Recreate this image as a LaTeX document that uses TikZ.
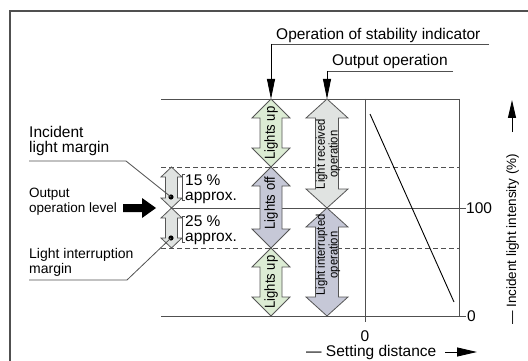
\documentclass[tikz,border=0pt]{standalone}
\usepackage{fontspec}
\setmainfont{Liberation Sans}
\newfontfamily\narrowfont[FakeStretch=0.9]{Liberation Sans}
\usetikzlibrary{arrows.meta}
\definecolor{gridc}{RGB}{80,80,80}
\definecolor{outc}{RGB}{85,85,85}
\definecolor{greenf}{RGB}{220,236,212}
\definecolor{offf}{RGB}{198,200,215}
\definecolor{recf}{RGB}{224,227,225}
\newcommand\fsA{\fontsize{15.5}{15}\selectfont}
\newcommand\fsB{\fontsize{14}{15}\selectfont}
\newcommand\fsC{\fontsize{13.5}{15}\selectfont}
\newcommand\fsR{\fontsize{13.5}{14}\selectfont}
\newcommand\fsArrow{\narrowfont\fontsize{14.5}{14}\selectfont}
\newcommand\fsArrowS{\narrowfont\fontsize{12.5}{10.5}\selectfont}
\newcommand\myDblArrow[7]{\filldraw[arrowbox,fill=#7] (#1,#2) -- ({#1+#4},{#2+#6}) -- ({#1+#5},{#2+#6}) -- ({#1+#5},{#3-#6}) -- ({#1+#4},{#3-#6}) -- (#1,#3) -- ({#1-#4},{#3-#6}) -- ({#1-#5},{#3-#6}) -- ({#1-#5},{#2+#6}) -- ({#1-#4},{#2+#6}) -- cycle;}
\begin{document}
\begin{tikzpicture}[x=1pt,y=-1pt,
  frame/.style={draw=gridc,line width=1.2pt},
  gridline/.style={draw=gridc,line width=0.9pt},
  dashline/.style={draw=gridc,line width=0.8pt,dash pattern=on 5pt off 3pt},
  leader/.style={draw=gridc,line width=0.8pt},
  tipline/.style={draw=black,line width=0.8pt,-{Triangle[length=20pt,width=8pt]}},
  arrowbox/.style={draw=outc,line width=0.8pt},
  lbl/.style={inner sep=0pt}]
\useasboundingbox (0,0) rectangle (528,361);
% frame
\coordinate (fTL) at (10,11);
\coordinate (fTR) at (528,11);
\coordinate (fBL) at (10,361);
\draw[frame] (fBL) -- (fTL) -- (fTR);
% grid
\coordinate (gT1) at (161,99);  \coordinate (gT2) at (459,99);
\coordinate (gD1) at (161,167); \coordinate (gD2) at (459,167);
\coordinate (gM1) at (171,208); \coordinate (gM2) at (466,208);
\coordinate (gL1) at (161,248); \coordinate (gL2) at (459,248);
\coordinate (gB1) at (161,316); \coordinate (gB2) at (466,316);
\coordinate (vA1) at (365,99);  \coordinate (vA2) at (365,322);
\coordinate (vR1) at (459,99);  \coordinate (vR2) at (459,316);
\draw[gridline] (gT1) -- (gT2);
\draw[dashline] (gD1) -- (gD2);
\draw[gridline] (gM1) -- (gM2);
\draw[dashline] (gL1) -- (gL2);
\draw[gridline] (gB1) -- (gB2);
\draw[gridline] (vA1) -- (vA2);
\draw[gridline] (vR1) -- (vR2);
\coordinate (dg1) at (370,114); \coordinate (dg2) at (454,302);
\draw[black,line width=0.9pt] (dg1) -- (dg2);
% stability indicator arrows
\myDblArrow{271}{99}{167}{19}{11}{19}{greenf}
\myDblArrow{271}{167}{248}{19}{11}{19}{offf}
\myDblArrow{271}{248}{316}{19}{11}{19}{greenf}
\node[lbl,rotate=90,font=\fsArrow] (lu1) at (271,133) {Lights up};
\node[lbl,rotate=90,font=\fsArrow] (loff) at (271,203) {Lights off};
\node[lbl,rotate=90,font=\fsArrow] (lu2) at (271,282) {Lights up};
% output operation arrows
\myDblArrow{327}{99}{208}{21}{11.5}{19}{recf}
\myDblArrow{327}{208}{316}{21}{11.5}{19}{offf}
\node[lbl,rotate=90,font=\fsArrowS,align=center] (lro) at (328,154) {Light received\\operation};
\node[lbl,rotate=90,font=\fsArrowS,align=center] (lio) at (328,255) {Light interrupted\\operation};
% margin arrows
\myDblArrow{171.5}{167}{208}{10.5}{6}{10}{recf}
\myDblArrow{171.5}{208}{248}{10.5}{6}{10}{recf}
\coordinate (dot1) at (171,197);
\coordinate (dot2) at (171,238);
\fill[black] (dot1) circle (2.6pt);
\fill[black] (dot2) circle (2.6pt);
% brackets
\draw[leader,line width=0.7pt] (185,174) -- (182,174) -- (182,200) -- (185,200);
\draw[leader,line width=0.7pt] (185,216) -- (182,216) -- (182,242) -- (185,242);
\node[lbl,anchor=base west,font=\fsA] (p15) at (185,185) {15 \%};
\node[lbl,anchor=base west,font=\fsA] (a15) at (185,200) {approx.};
\node[lbl,anchor=base west,font=\fsA] (p25) at (185,226) {25 \%};
\node[lbl,anchor=base west,font=\fsA] (a25) at (185,241) {approx.};
% top labels with leaders
\node[lbl,anchor=base west,font=\fsA] (osi) at (276,40) {Operation of stability indicator};
\coordinate (osiR) at (489,44); \coordinate (osiL) at (271,44); \coordinate (osiT) at (271,99);
\draw[leader] (osiR) -- (osiL);
\draw[tipline] (osiL) -- (osiT);
\node[lbl,anchor=base west,font=\fsA] (oop) at (332,66) {Output operation};
\coordinate (oopR) at (453,71); \coordinate (oopL) at (327,71); \coordinate (oopT) at (327,99);
\draw[leader] (oopR) -- (oopL);
\draw[tipline] (oopL) -- (oopT);
% left labels
\node[lbl,anchor=base west,font=\fsA] (ilm1) at (29,138) {Incident};
\node[lbl,anchor=base west,font=\fsA] (ilm2) at (29,153) {light margin};
\coordinate (ilmL) at (29,161); \coordinate (ilmR) at (126,161);
\draw[leader] (ilmL) -- (ilmR) -- (dot1);
\node[lbl,anchor=base west,font=\fsC] (ool1) at (29,197) {Output};
\node[lbl,anchor=base west,font=\fsC] (ool2) at (29,212) {operation level};
\coordinate (bk) at (123,208);
\fill[black] (bk) ++(0,-4) -- ++(19,0) -- ++(0,-6) -- ++(14,10) -- ++(-14,10) -- ++(0,-6) -- ++(-19,0) -- cycle;
\node[lbl,anchor=base west,font=\fsB] (lim1) at (29,258) {Light interruption};
\node[lbl,anchor=base west,font=\fsB] (lim2) at (29,273) {margin};
\coordinate (limL) at (29,280); \coordinate (limR) at (127,280);
\draw[leader] (limL) -- (limR) -- (dot2);
% axis labels
\node[lbl,anchor=west,font=\fsA] (l100) at (466,208) {100};
\node[lbl,anchor=west,font=\fsA] (l0r) at (467,316) {0};
\node[lbl,anchor=base,font=\fsA] (l0b) at (365,341) {0};
\node[lbl,anchor=base west,font=\fsA] (sd) at (306,356) {— Setting distance};
\coordinate (sdA) at (445,352); \coordinate (sdB) at (477,352);
\draw[black,line width=0.9pt,-{Triangle[length=20pt,width=9pt]}] (sdA) -- (sdB);
\node[lbl,rotate=90,anchor=base west,font=\fsR] (ili) at (516,325) {— Incident light intensity (\%)};
\coordinate (iliA) at (512,132); \coordinate (iliB) at (512,100);
\draw[black,line width=0.9pt,-{Triangle[length=18pt,width=8pt]}] (iliA) -- (iliB);
\end{tikzpicture}
\end{document}
